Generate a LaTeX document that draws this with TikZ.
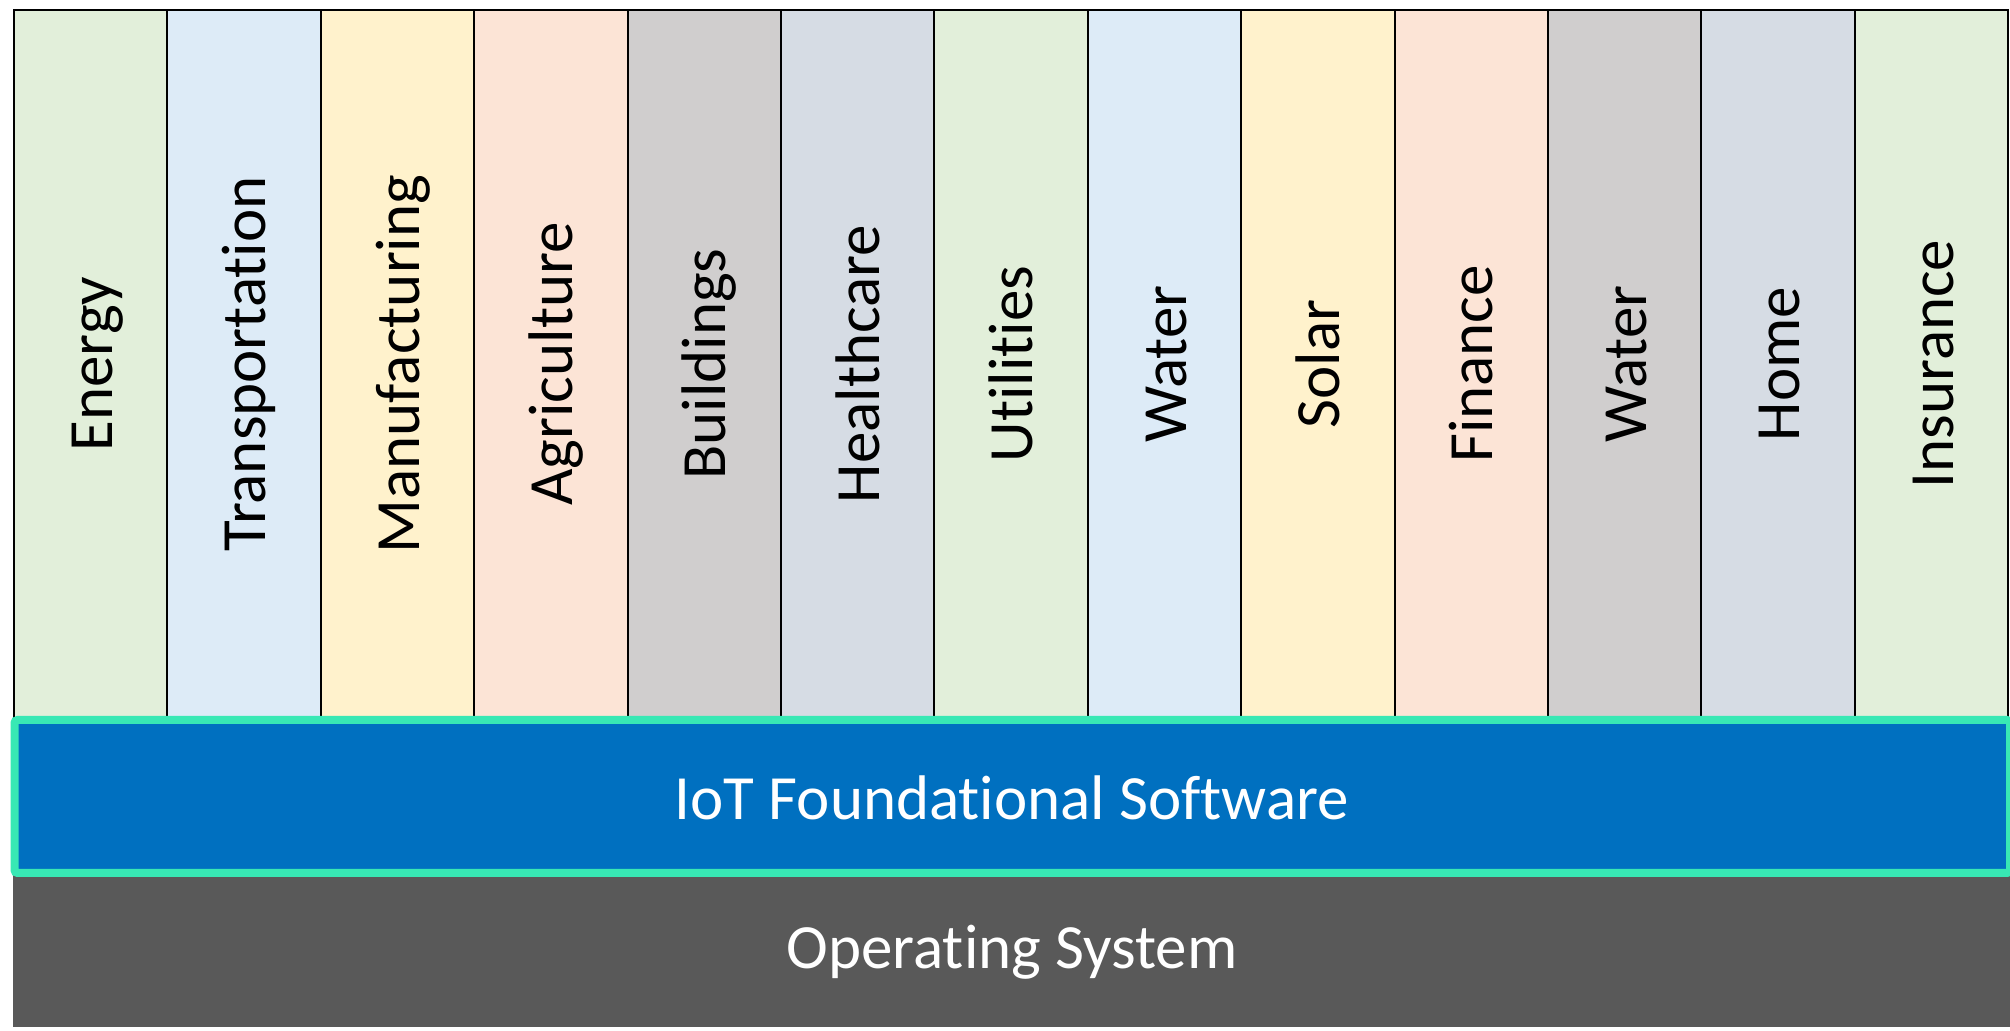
\documentclass[tikz,border=0pt]{standalone}
\usepackage{fontspec}
\setmainfont{Carlito}[RawFeature={-liga;-clig;-dlig;-calt}]
\definecolor{cGreen}{HTML}{E2EFDA}
\definecolor{cBlue}{HTML}{DDEBF7}
\definecolor{cYellow}{HTML}{FFF2CC}
\definecolor{cPeach}{HTML}{FCE4D6}
\definecolor{cGray}{HTML}{D0CECE}
\definecolor{cSlate}{HTML}{D6DCE4}
\definecolor{iotBlue}{HTML}{0070C0}
\definecolor{iotEdge}{HTML}{38E8B4}
\definecolor{osGray}{HTML}{595959}
\tikzset{
  colbox/.style={draw=black, line width=1pt},
  collabel/.style={rotate=90, anchor=base, font=\fontsize{31.5}{36}\selectfont, text=black, inner sep=0pt},
  bandlabel/.style={font=\fontsize{31.5}{36}\selectfont, text=white, inner sep=0pt},
}
\begin{document}
\begin{tikzpicture}[x=0.5pt, y=-0.5pt]
\useasboundingbox (0,0) rectangle (2010,1031);
% operating system band
\fill[osGray] (13,873) rectangle (2010,1027);
\node[bandlabel] (os) at (1012,952) {Operating System};
% columns
\foreach \i/\c/\t in {0/cGreen/Energy,1/cBlue/Transportation,2/cYellow/Manufacturing,3/cPeach/Agriculture,4/cGray/Buildings,5/cSlate/Healthcare,6/cGreen/Utilities,7/cBlue/Water,8/cYellow/Solar,9/cPeach/Finance,10/cGray/Water,11/cSlate/Home,12/cGreen/Insurance}{
  \pgfmathsetmacro{\xa}{14+\i*153.4}
  \pgfmathsetmacro{\xb}{14+(\i+1)*153.4}
  \pgfmathsetmacro{\xm}{14+(\i+0.5)*153.4+21.5}
  \draw[colbox, fill=\c] (\xa,10) rectangle (\xb,720);
  \node[collabel] (col\i) at (\xm,364) {\t};
}
% IoT foundational software band
\draw[fill=iotBlue, draw=iotEdge, line width=4pt, rounded corners=1.5pt] (14.5,720) rectangle (2010,873);
\node[bandlabel] (iot) at (1012,798) {IoT Foundational Software};
\end{tikzpicture}
\end{document}
